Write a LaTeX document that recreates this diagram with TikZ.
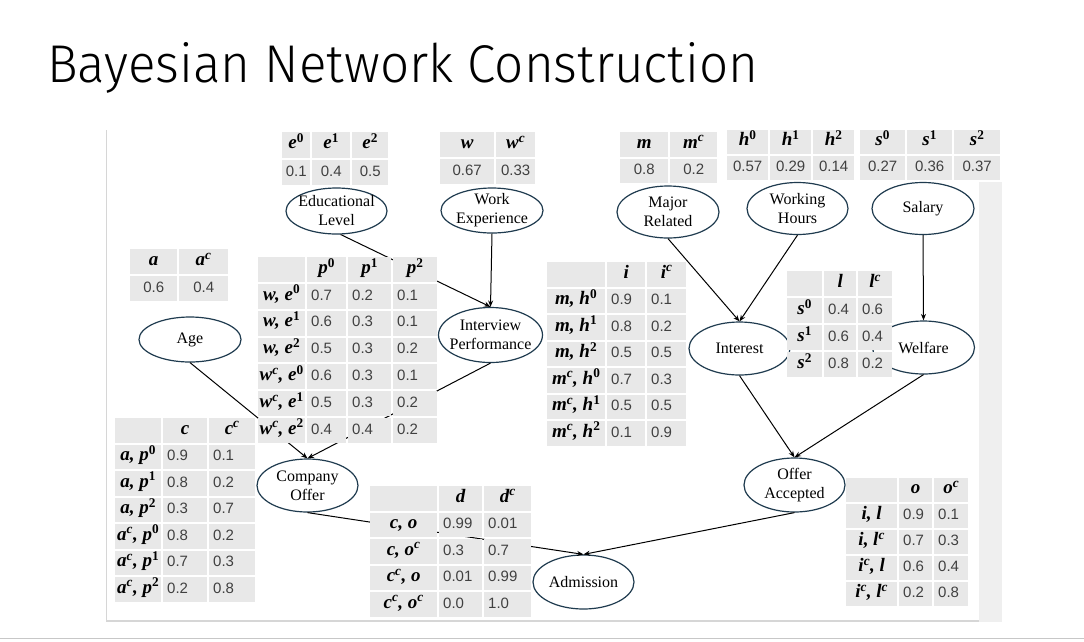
\documentclass[tikz,border=0pt]{standalone}
\usepackage{graphicx}
\usepackage{fontspec}
\setmainfont{Liberation Serif}
\newfontfamily\numfont{Liberation Sans}
\newfontfamily\symfont{Liberation Serif}
\IfFontExistsTF{Fira Sans Light}
  {\newfontfamily\headfont{Fira Sans Light}}
  {\newfontfamily\headfont{Carlito}}
\usetikzlibrary{matrix,shapes.geometric,arrows.meta}

\definecolor{cellgray}{HTML}{E8E8E8}
\definecolor{numgray}{HTML}{404040}
\definecolor{bnline}{HTML}{1F3B4F}
\definecolor{framegray}{HTML}{D6D6D6}
\definecolor{bandgray}{HTML}{EFEFEF}

% bold italic variable symbols inside a table cell
\newcommand\bv[1]{{\color{black}\symfont\fontsize{19}{21}\selectfont\bfseries\itshape #1}}
\newcommand\up[1]{\textsuperscript{#1}}
\newcommand\dg[1]{\textsuperscript{\upshape #1}}
% network variable: ellipse plus its caption
\newcommand\bnode[5]{%
  \node[bn, minimum width=#3, minimum height=#4] (#1) at (#2) {};
  \node[bntext] (#1-t) at (#1.center) {#5};}

\tikzset{
  bn/.style={ellipse, draw=bnline, line width=1.2pt, fill=white, inner sep=0pt},
  bntext/.style={font=\fontsize{16}{19}\selectfont, align=center, inner sep=0pt, text=black},
  link/.style={line width=1pt, -{Stealth[length=6.5pt,width=5pt]}},
  cell/.style={fill=cellgray, inner xsep=2pt, inner ysep=0pt, text height=11pt,
    text depth=3.5pt, font=\numfont\fontsize{15}{17}\selectfont, text=numgray},
  tbl/.style={matrix of nodes, nodes in empty cells, anchor=north west, inner sep=0pt,
    row sep=2pt, column sep=2pt, nodes={cell, minimum height=#1}},
  cw/.style={nodes={minimum width=#1}},
  rw/.style={nodes={minimum width=#1, inner xsep=0.5pt}},
  lw/.style={nodes={text width=#1, align=left, inner xsep=4pt}},
}

\begin{document}
\begin{tikzpicture}[x=1pt,y=-1pt]
\useasboundingbox (0,0) rectangle (1084,641);
\fill[white] (0,0) rectangle (1084,641);

% slide title and page frame
\node[anchor=base west, inner sep=0pt] (title) at (47,82)
  {\resizebox{711pt}{40pt}{\headfont Bayesian Network Construction}};
\draw[framegray, line width=1.5pt] (106.5,130) -- (106.5,621) -- (980,621);
\fill[bandgray] (979,182) rectangle (1002,622);
\draw[black!22, line width=1.5pt] (0,638.5) -- (1084,638.5);

% variables of the network
\bnode{educ}{336.5,211}{101pt}{46pt}{Educational\\Level}
\bnode{work}{492,210.5}{102pt}{45pt}{Work\\Experience}
\bnode{major}{668,212}{102pt}{52pt}{Major\\Related}
\bnode{hours}{797.5,208.5}{101pt}{52pt}{Working\\Hours}
\bnode{salary}{923,208.5}{102pt}{52pt}{Salary}
\bnode{age}{190,339.5}{102pt}{45pt}{Age}
\bnode{interview}{490.5,335}{104pt}{55pt}{Interview\\Performance}
\bnode{interest}{739.5,348.5}{101pt}{53pt}{Interest}
\bnode{welfare}{923.5,347.5}{102pt}{53pt}{Welfare}
\bnode{company}{307.5,485.5}{101pt}{53pt}{Company\\Offer}
\bnode{offer}{794.5,485}{101pt}{54pt}{Offer\\Accepted}
\bnode{admission}{583.5,582}{101pt}{54pt}{Admission}

% dependencies
\draw[link] (educ.-80) -- (interview.north);
\draw[link] (work.south) -- (interview.north);
\draw[link] (interview.south) -- (company.north);
\draw[link] (age.south) -- (company.north);
\draw[link] (major.south) -- (interest.north);
\draw[link] (hours.south) -- (interest.north);
\draw[link] (salary.south) -- (welfare.north);
\draw[link] (interest.south) -- (offer.north);
\draw[link] (welfare.south) -- (offer.north);
\draw[link] (company.south) -- (admission.north);
\draw[link] (offer.south) -- (admission.north);

% prior probability tables
\matrix (etab) [tbl=25.5pt, column 1/.style={cw=28pt}, column 2/.style={cw=38pt},
  column 3/.style={cw=36pt}] at (282,132) {
  \bv{e\dg{0}} & \bv{e\dg{1}} & \bv{e\dg{2}} \\
  0.1 & 0.4 & 0.5 \\
};
\matrix (wtab) [tbl=25pt, column 1/.style={cw=54pt}, column 2/.style={cw=39pt}] at (440,132) {
  \bv{w} & \bv{w\up{c}} \\
  0.67 & 0.33 \\
};
\matrix (mtab) [tbl=24.5pt, column 1/.style={cw=48pt}, column 2/.style={cw=47pt}] at (620,132) {
  \bv{m} & \bv{m\up{c}} \\
  0.8 & 0.2 \\
};
\matrix (htab) [tbl=24pt, column 1/.style={cw=41pt}, column 2/.style={cw=41pt},
  column 3/.style={cw=41pt}] at (727,130) {
  \bv{h\dg{0}} & \bv{h\dg{1}} & \bv{h\dg{2}} \\
  0.57 & 0.29 & 0.14 \\
};
\matrix (stab) [tbl=24pt, column 1/.style={cw=45pt}, column 2/.style={cw=45pt},
  column 3/.style={cw=46pt}] at (860,130) {
  \bv{s\dg{0}} & \bv{s\dg{1}} & \bv{s\dg{2}} \\
  0.27 & 0.36 & 0.37 \\
};
\matrix (atab) [tbl=25pt, column 1/.style={cw=47pt}, column 2/.style={cw=49pt}] at (130,249) {
  \bv{a} & \bv{a\up{c}} \\
  0.6 & 0.4 \\
};

% conditional probability tables
\matrix (ptab) [tbl=24.8pt, column 1/.style={rw=47pt}, column 2/.style={lw=31pt},
  column 3/.style={lw=35pt}, column 4/.style={lw=36pt},
  row 1/.style={nodes={align=center}}] at (258,257) {
   & \bv{p\dg{0}} & \bv{p\dg{1}} & \bv{p\dg{2}} \\
  \bv{w, e\dg{0}} & 0.7 & 0.2 & 0.1 \\
  \bv{w, e\dg{1}} & 0.6 & 0.3 & 0.1 \\
  \bv{w, e\dg{2}} & 0.5 & 0.3 & 0.2 \\
  \bv{w\up{c}, e\dg{0}} & 0.6 & 0.3 & 0.1 \\
  \bv{w\up{c}, e\dg{1}} & 0.5 & 0.3 & 0.2 \\
  \bv{w\up{c}, e\dg{2}} & 0.4 & 0.4 & 0.2 \\
};
\matrix (itab) [tbl=24.5pt, column 1/.style={rw=58pt}, column 2/.style={lw=30pt},
  column 3/.style={lw=31pt}, row 1/.style={nodes={align=center}}] at (547,262) {
   & \bv{i} & \bv{i\up{c}} \\
  \bv{m, h\dg{0}} & 0.9 & 0.1 \\
  \bv{m, h\dg{1}} & 0.8 & 0.2 \\
  \bv{m, h\dg{2}} & 0.5 & 0.5 \\
  \bv{m\up{c}, h\dg{0}} & 0.7 & 0.3 \\
  \bv{m\up{c}, h\dg{1}} & 0.5 & 0.5 \\
  \bv{m\up{c}, h\dg{2}} & 0.1 & 0.9 \\
};
\matrix (ltab) [tbl=25pt, column 1/.style={rw=35pt}, column 2/.style={lw=24pt},
  column 3/.style={lw=26pt}, row 1/.style={nodes={align=center}}] at (787,271) {
   & \bv{l} & \bv{l\up{c}} \\
  \bv{s\dg{0}} & 0.4 & 0.6 \\
  \bv{s\dg{1}} & 0.6 & 0.4 \\
  \bv{s\dg{2}} & 0.8 & 0.2 \\
};
\matrix (ctab) [tbl=24.5pt, column 1/.style={rw=46pt}, column 2/.style={lw=36pt},
  column 3/.style={lw=38pt}, row 1/.style={nodes={align=center}}] at (115,418) {
   & \bv{c} & \bv{c\up{c}} \\
  \bv{a, p\dg{0}} & 0.9 & 0.1 \\
  \bv{a, p\dg{1}} & 0.8 & 0.2 \\
  \bv{a, p\dg{2}} & 0.3 & 0.7 \\
  \bv{a\up{c}, p\dg{0}} & 0.8 & 0.2 \\
  \bv{a\up{c}, p\dg{1}} & 0.7 & 0.3 \\
  \bv{a\up{c}, p\dg{2}} & 0.2 & 0.8 \\
};
\matrix (dtab) [tbl=24.5pt, column 1/.style={rw=67pt}, column 2/.style={lw=35pt},
  column 3/.style={lw=39pt}, row 1/.style={nodes={align=center}}] at (370,486) {
   & \bv{d} & \bv{d\up{c}} \\
  \bv{c, o} & 0.99 & 0.01 \\
  \bv{c, o\up{c}} & 0.3 & 0.7 \\
  \bv{c\up{c}, o} & 0.01 & 0.99 \\
  \bv{c\up{c}, o\up{c}} & 0.0 & 1.0 \\
};
\matrix (otab) [tbl=24pt, column 1/.style={rw=51pt}, column 2/.style={lw=25pt},
  column 3/.style={lw=26pt}, row 1/.style={nodes={align=center}}] at (846,478) {
   & \bv{o} & \bv{o\up{c}} \\
  \bv{i, l} & 0.9 & 0.1 \\
  \bv{i, l\up{c}} & 0.7 & 0.3 \\
  \bv{i\up{c}, l} & 0.6 & 0.4 \\
  \bv{i\up{c}, l\up{c}} & 0.2 & 0.8 \\
};
\end{tikzpicture}
\end{document}
